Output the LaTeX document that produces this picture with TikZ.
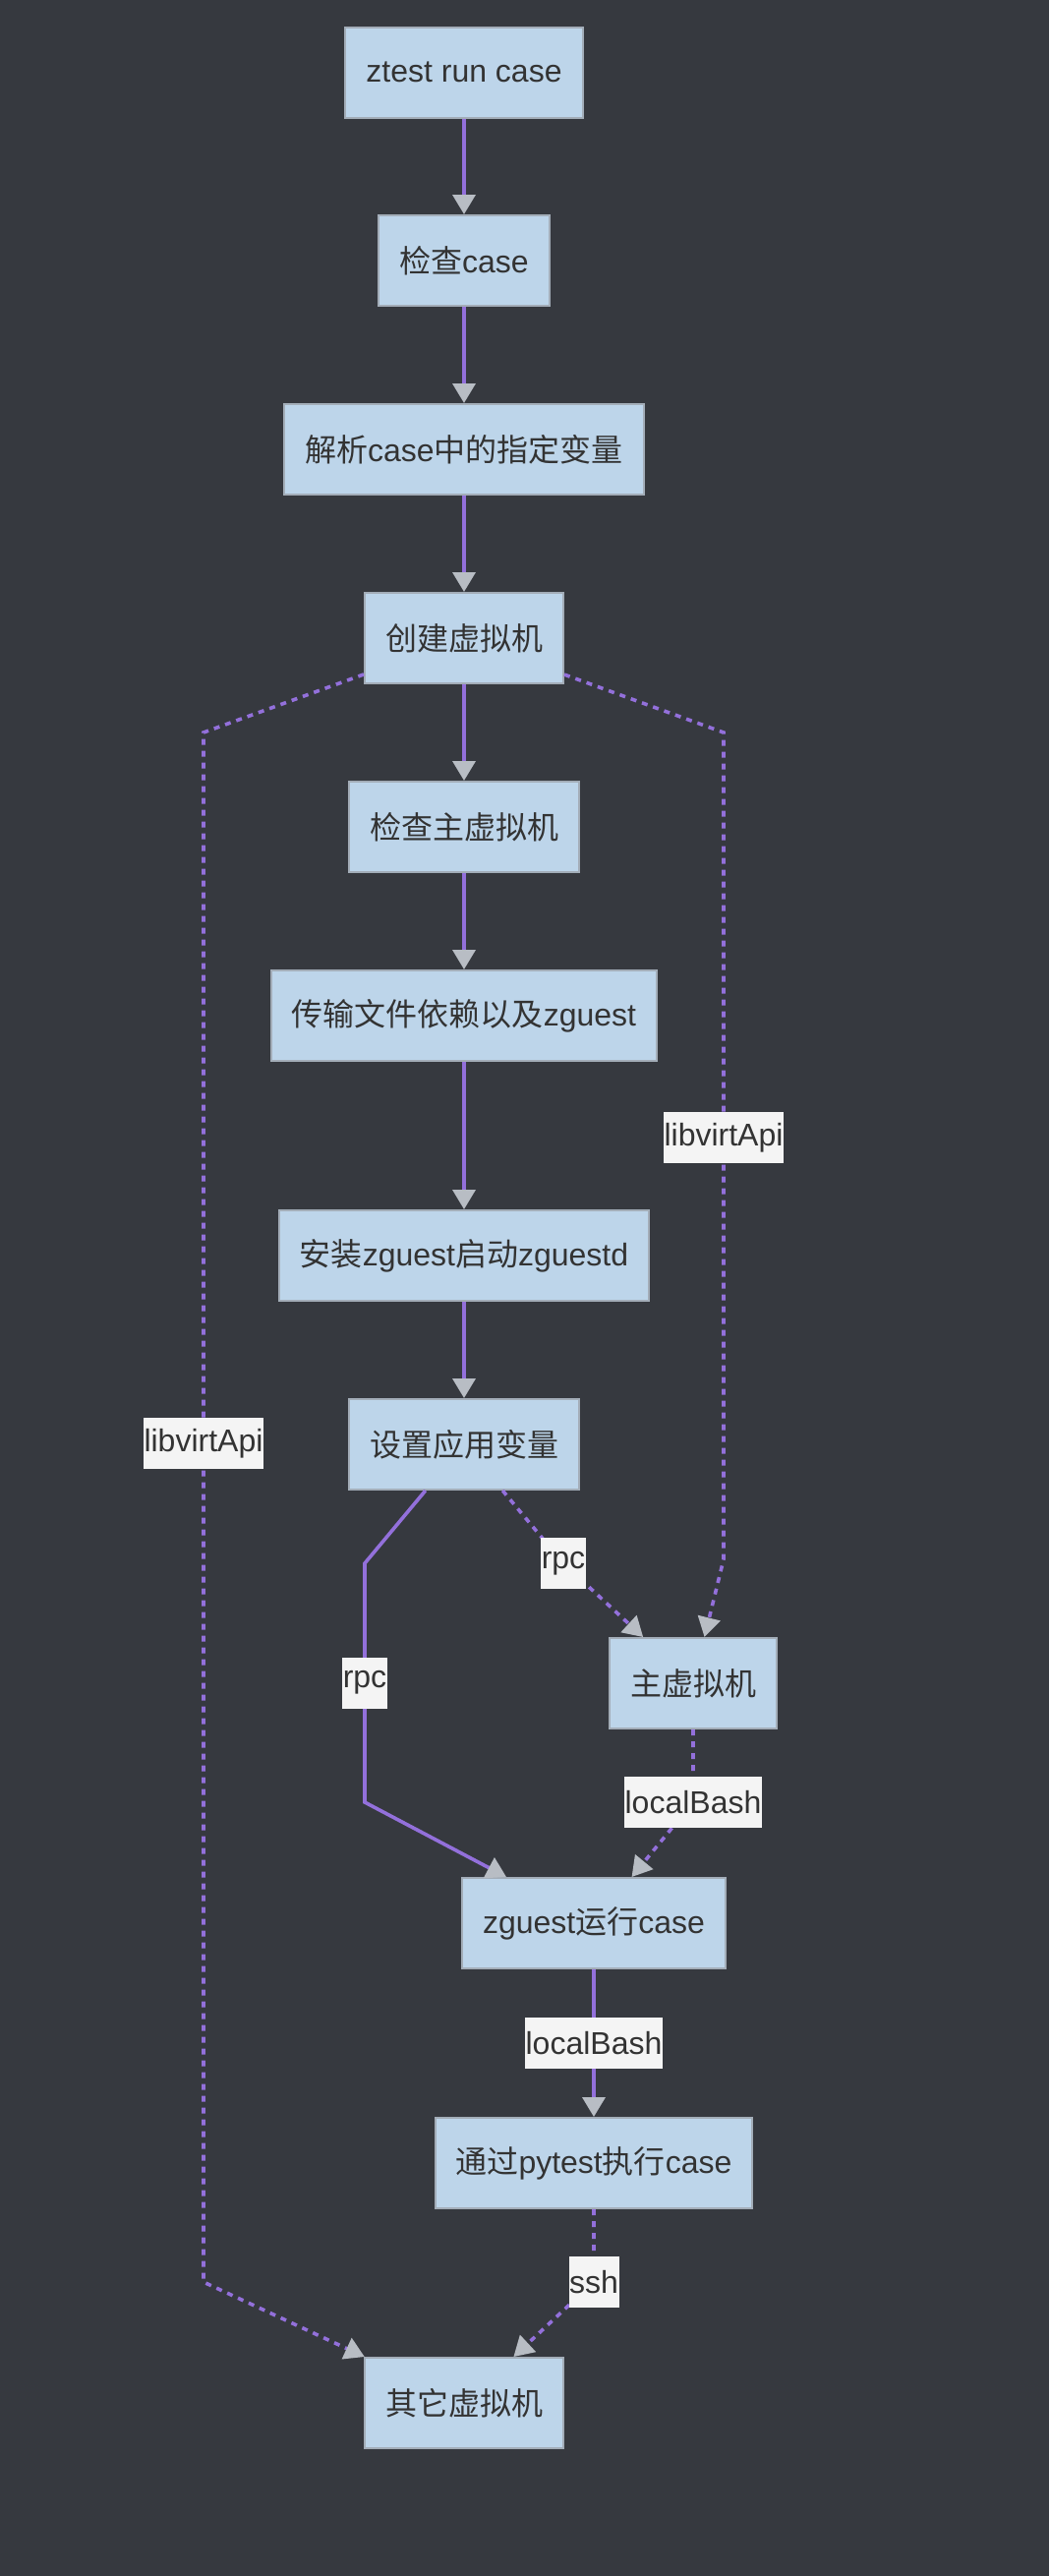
\documentclass[tikz,border=0pt]{standalone}
\usepackage{fontspec}
\usepackage{xcolor}
\setmainfont{Liberation Sans}
\newfontfamily\cjk{Noto Sans CJK SC}
\usetikzlibrary{arrows.meta}
\definecolor{bgcol}{HTML}{36393F}
\definecolor{boxfill}{HTML}{BDD5EA}
\definecolor{boxline}{HTML}{A3ADB8}
\definecolor{flow}{HTML}{9370DB}
\definecolor{tipcol}{HTML}{B8BDC4}
\definecolor{lblfill}{HTML}{F4F4F4}
\definecolor{txt}{HTML}{333333}
\tikzset{
  box/.style={rectangle, draw=boxline, fill=boxfill, line width=1pt, text=txt,
    minimum height=46pt, inner xsep=10.5pt, font=\fontsize{16}{19}\selectfont},
  lbl/.style={fill=lblfill, text=txt, inner xsep=0.3pt, inner ysep=0pt,
    minimum height=26pt, font=\fontsize{16}{19}\selectfont},
  flowline/.style={flow, line width=1.8pt, -{Triangle[length=10pt,width=11.5pt,color=tipcol]}},
  dotline/.style={flowline, dash pattern=on 3pt off 3pt},
}

\begin{document}
\begin{tikzpicture}[x=0.5pt,y=-0.5pt]
\fill[bgcol] (0,0) rectangle (1067,2620);
\useasboundingbox (0,0) rectangle (1067,2620);
% Define the nodes
\node[box] at (472,73.5) (run) {ztest run case};
\node[box] at (472,265) (chk) {{\cjk 检查}case};
\node[box] at (472,457) (parse) {{\cjk 解析}case{\cjk 中的指定变量}};
\node[box] at (472,649) (create) {\cjk 创建虚拟机};
\node[box] at (472,841) (chkmain) {\cjk 检查主虚拟机};
\node[box] at (472,1033) (trans) {{\cjk 传输文件依赖以及}zguest};
\node[box] at (472,1277) (inst) {{\cjk 安装}zguest{\cjk 启动}zguestd};
\node[box] at (472,1469) (setv) {\cjk 设置应用变量};
\node[box] at (705,1712) (mainvm) {\cjk 主虚拟机};
\node[box] at (604,1956) (zrun) {zguest{\cjk 运行}case};
\node[box] at (604,2200) (pyt) {{\cjk 通过}pytest{\cjk 执行}case};
\node[box] at (472,2444) (other) {\cjk 其它虚拟机};
% Draw the paths
\draw[flowline] (run) -- (chk);
\draw[flowline] (chk) -- (parse);
\draw[flowline] (parse) -- (create);
\draw[flowline] (create) -- (chkmain);
\draw[flowline] (chkmain) -- (trans);
\draw[flowline] (trans) -- (inst);
\draw[flowline] (inst) -- (setv);
\draw[dotline] (create) -- (207,745) -- node[lbl,pos=0.459]{libvirtApi} (207,2321) -- (other);
\draw[dotline] (create) -- (736,745) -- node[lbl,pos=0.49]{libvirtApi} (736,1586) -- (mainvm);
\draw[dotline] (setv) -- (573,1590) node[lbl]{rpc} -- (mainvm);
\draw[flowline] (setv) -- (371,1590) -- node[lbl]{rpc} (371,1833) -- (zrun);
\draw[dotline] (mainvm) -- (705,1833) node[lbl]{localBash} -- (zrun);
\draw[flowline] (zrun) -- node[lbl]{localBash} (pyt);
\draw[dotline] (pyt) -- (604,2321) node[lbl]{ssh} -- (other);
\end{tikzpicture}
\end{document}
